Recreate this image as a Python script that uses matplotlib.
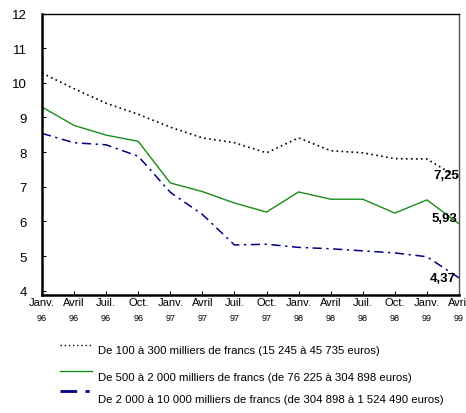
import matplotlib
matplotlib.use('Agg')
import matplotlib.pyplot as plt
from matplotlib.lines import Line2D

plt.rcParams['font.family'] = ['Liberation Sans Narrow', 'Liberation Sans', 'DejaVu Sans']

# ── données ──
mois = ['Janv.', 'Avril', 'Juil.', 'Oct.'] * 3 + ['Janv.', 'Avril']
annees = ['96'] * 4 + ['97'] * 4 + ['98'] * 4 + ['99'] * 2

petites = [10.28, 9.83, 9.41, 9.09, 8.72, 8.41, 8.27, 7.98, 8.41, 8.04, 7.98, 7.81, 7.80, 7.25]
moyennes = [9.30, 8.77, 8.49, 8.31, 7.11, 6.86, 6.53, 6.27, 6.85, 6.64, 6.64, 6.24, 6.62, 5.93]
grandes = [8.54, 8.27, 8.21, 7.88, 6.84, 6.20, 5.32, 5.34, 5.25, 5.21, 5.15, 5.09, 4.98, 4.37]

legendes = [
    'De 100 à 300 milliers de francs (15 245 à 45 735 euros)',
    'De 500 à 2 000 milliers de francs (de 76 225 à 304 898 euros)',
    'De 2 000 à 10 000 milliers de francs (de 304 898 à 1 524 490 euros)',
]
fin_labels = ['7,25', '5,93', '4,37']

W, H = 466, 414
fig = plt.figure(figsize=(W / 100, H / 100), dpi=100)


def fx(px):
    return px / W


def fy(py):
    return 1 - py / H


ax = fig.add_axes([fx(42), fy(295.5), fx(459) - fx(42), fy(14.5) - fy(295.5)])

x = list(range(len(mois)))
styles = [
    dict(color='black', lw=1.2, ls=(0, (1, 2))),
    dict(color='#1a8c1a', lw=1.0, ls='-'),
    dict(color='#000080', lw=1.1, ls=(0, (6, 3, 1.5, 3))),
]
for serie, st in zip([petites, moyennes, grandes], styles):
    ax.plot(x, serie, clip_on=False, **st)

# étiquettes de fin de série
offsets = [(0, 2), (-1, 4), (-2, 0)]
for serie, lab, (dx, dy) in zip([petites, moyennes, grandes], fin_labels, offsets):
    ax.annotate(lab, (x[-1], serie[-1]), xytext=(dx, dy), textcoords='offset points',
                ha='right', va='center', fontsize=9.5, fontweight='bold')

ax.set_xlim(0, len(mois) - 1)
ax.set_ylim(3.89, 12)
ax.set_yticks(range(4, 13))
ax.set_xticks(x)
ax.set_xticklabels(mois)
ax.tick_params(axis='both', direction='in', length=3, width=0.8, colors='black')
ax.tick_params(axis='y', labelsize=9.5, pad=11)
ax.tick_params(axis='x', labelsize=8, pad=1.5)
for lab in ax.get_xticklabels():
    lab.set_clip_on(False)

for i, an in enumerate(annees):
    ax.text(i, -0.083, an, transform=ax.get_xaxis_transform(), ha='center', va='center',
            fontsize=6.5, clip_on=False)

ax.spines['left'].set_linewidth(1.8)
ax.spines['bottom'].set_linewidth(1.8)
ax.spines['top'].set_linewidth(1.0)
ax.spines['right'].set_linewidth(1.0)
ax.spines['right'].set_color('#555555')

# ── légende ──
ligne_y = [346, 371.5, 391.5]
texte_y = [351.5, 378, 400.5]
leg_lw = [1.0, 1.0, 2.0]
for st, ly, ty, txt, lw in zip(styles, ligne_y, texte_y, legendes, leg_lw):
    st2 = dict(st)
    st2['lw'] = lw
    fig.add_artist(Line2D([fx(60), fx(92)], [fy(ly), fy(ly)], transform=fig.transFigure, **st2))
    fig.text(fx(98), fy(ty), txt, ha='left', va='center', fontsize=8.2)

fig.savefig('out.png', dpi=100)
